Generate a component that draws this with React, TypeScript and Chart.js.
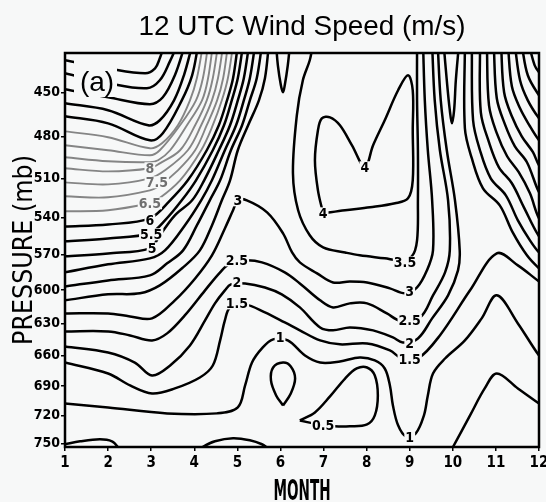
import React, { useEffect, useRef } from 'react';
import { Chart, registerables } from 'chart.js';
Chart.register(...registerables);

// ---------- axes ----------
const monthTicks = [1, 2, 3, 4, 5, 6, 7, 8, 9, 10, 11, 12];
const pressureTicks = [450, 480, 510, 540, 570, 600, 630, 660, 690, 720, 750];
const pressureMin = 425;
const pressureMax = 754;

// ---------- contour lines: [month, pressure (mb)] ----------
const c12 = [[1,429.5],[2,434.6],[2.86,437.7],[3.09,434.6],[3.2,428.3],[3.3,420.3]];
const c11_5 = [[1,437.7],[2,444.1],[2.9,447.4],[3.2,442.2],[3.44,429.9],[3.6,420.3]];
const c11 = [[1,448],[2,453.3],[2.97,457.9],[3.27,453.3],[3.55,439],[3.78,420.3]];
const c10_5 = [[1,457.3],[2,461.9],[2.93,472.1],[3.2,468.7],[3.53,455.3],[3.76,439],[3.95,420.3]];
const c10 = [[1,466],[2,470.8],[2.97,482.6],[3.27,477.6],[3.71,455.3],[3.95,439],[4.09,420.3]];
const c9_5 = [[1,476.3],[2,480.4],[2.97,488.2],[3.25,484.7],[3.62,472.1],[3.9,455.3],[4.06,440.9],[4.2,420.3]];
const c9 = [[1,486.1],[2,489.6],[2.97,493.2],[3.2,489.6],[3.67,472.1],[4.04,455.3],[4.2,440.9],[4.32,420.3]];
const c8_5 = [[1,494.6],[2,497.5],[2.97,498.2],[3.16,496.8],[3.44,489.6],[3.83,472.1],[4.18,455.3],[4.32,440.9],[4.43,420.3]];
const c8 = [[1,502.6],[2,504.9],[2.97,502.6],[3.2,499],[3.67,489.6],[4.02,472.1],[4.29,455.3],[4.43,440.9],[4.55,420.3]];
const c7_5 = [[1,513],[2,514.5],[2.97,510],[3.32,504.1],[3.85,489.6],[4.16,472.1],[4.41,455.3],[4.55,440.9],[4.67,420.3]];
const c7 = [[1,523.5],[2,524.3],[2.97,519],[3.2,515.2],[3.62,504.1],[4.02,489.6],[4.29,472.1],[4.53,455.3],[4.67,440.9],[4.78,420.3]];
const c6_5 = [[1,535.1],[2,534.3],[2.97,528.9],[3.13,526.6],[3.67,511.5],[4.16,489.6],[4.43,472.1],[4.64,455.3],[4.78,440.9],[4.9,420.3]];
const c6 = [[1,547],[2,545.4],[2.97,540.6],[3.44,526.6],[3.85,511.5],[4.29,489.6],[4.57,472.1],[4.76,455.3],[4.9,440.9],[5.01,420.3]];
const c5_5 = [[1,559],[2,556.6],[2.97,552.5],[3.32,542.2],[3.71,526.6],[4.04,511.5],[4.43,489.6],[4.69,472.1],[4.87,455.3],[5.01,440.9],[5.13,420.3]];
const c5 = [[1,571.3],[2,568.9],[2.97,564.7],[3.2,554.1],[3.55,538.2],[3.95,526.6],[4.23,511.5],[4.57,489.6],[4.83,472.1],[5.01,455.3],[5.15,440.9],[5.27,420.3]];
const c4_5 = [[1,584.8],[2,578],[2.97,573],[3.32,566.4],[3.78,546.2],[4.16,526.6],[4.41,511.5],[4.71,489.6],[4.97,472.1],[5.15,455.3],[5.29,440.9],[5.41,420.3]];
const c4 = [[1,596.9],[2,591.7],[2.97,587.4],[3.37,577.2],[3.74,566.4],[4.06,546.2],[4.36,526.6],[4.6,511.5],[4.85,489.6],[5.11,472.1],[5.29,455.3],[5.45,440.9],[5.57,420.3]];
const c3_5fan = [[1,609.1],[2,603.8],[2.74,602.9],[3.2,596],[3.74,580.6],[4.13,566.4],[4.41,546.2],[4.64,526.6],[4.83,511.5],[5.01,489.6],[5.25,472.1],[5.5,455.3],[5.64,440.9],[5.73,420.3]];
const c3 = [[1,620.8],[2,620.8],[2.51,623.5],[3.02,625.3],[3.55,609.1],[4.02,590],[4.41,570.5],[4.71,548.6],[4.9,534.3],[5.01,526.6],[5.22,526.6],[5.69,535.9],[6.06,552.5],[6.27,568.1],[6.45,576.4],[6.85,585.7],[7.22,593.5],[7.61,592.6],[8.01,593.5],[8.54,598.6],[8.89,602.9],[9.17,597.8],[9.4,583.1],[9.54,566.4],[9.52,526.6],[9.42,489.6],[9.35,455.3],[9.31,420.3]];
const c3_5u = [[6.75,420.3],[6.68,429.5],[6.52,442.2],[6.38,465.3],[6.29,506.3],[6.41,534.3],[6.68,554.1],[6.99,563.9],[7.5,568.1],[7.84,570.5],[8.42,573],[8.77,574.7],[9.05,571.3],[9.17,558.2],[9.19,526.6],[9.19,489.6],[9.17,455.3],[9.17,420.3]];
const c4loop = [[6.99,536.7],[6.87,519],[6.8,496.8],[6.87,475.6],[6.96,467.4],[7.15,466.7],[7.38,472.1],[7.66,486.1],[7.96,501.9],[8.15,486.1],[8.42,468.7],[8.73,448.7],[8.96,439],[9.07,448.7],[9.07,475.6],[9.07,511.5],[8.96,525.1],[8.66,528.9],[8.08,532],[7.5,534.3],[6.99,536.7]];
const cTongue6 = [[5.9,420.3],[5.94,432.7],[6.01,445.4],[6.06,450],[6.1,445.4],[6.17,432.7],[6.22,420.3]];
const cTongue10 = [[9.79,420.3],[9.86,442.2],[9.93,461.9],[9.98,470.8],[10.03,461.9],[10.07,442.2],[10.14,420.3]];
const c2_5 = [[1,637.3],[2,637.3],[2.51,641],[3.02,645.7],[3.37,639.1],[3.78,622.6],[4.25,600.3],[4.6,584.8],[4.83,577.2],[5.18,574.7],[5.57,576.4],[6.1,584.8],[6.45,594.3],[6.92,609.1],[7.22,615.4],[7.61,611.8],[8.01,611.8],[8.47,620.8],[8.77,627.2],[9.24,624.4],[9.54,604.7],[9.82,584.8],[9.93,566.4],[9.89,526.6],[9.7,489.6],[9.58,455.3],[9.52,420.3]];
const c2 = [[1,651.3],[2,657.1],[2.62,666.8],[3.02,679.5],[3.44,669.7],[3.9,650.4],[4.25,627.2],[4.48,611.8],[4.71,600.3],[4.85,595.1],[5.18,594.3],[5.64,597.8],[6.03,603.8],[6.45,615.4],[6.92,633.6],[7.22,636.3],[7.61,633.6],[8.15,636.3],[8.61,642.9],[8.84,647.6],[9.19,643.8],[9.52,625.3],[9.89,604.7],[10.12,583.1],[10.16,566.4],[10.05,526.6],[9.86,489.6],[9.72,455.3],[9.65,420.3]];
const c1_5 = [[1,666.8],[2,677.5],[2.51,689.4],[3.02,697.5],[3.55,692.4],[4.13,681.5],[4.43,669.7],[4.6,645.7],[4.71,627.2],[4.83,615.4],[5.18,612.7],[5.64,619.9],[6.1,629],[6.45,636.3],[6.92,645.7],[7.38,649.4],[8.01,648.5],[8.54,655.2],[8.82,662.9],[9.19,662.9],[9.7,641],[10.4,600.3],[11.02,568.9],[11.51,578.9],[12,592.6],[12.14,596]];
const c1 = [[1,707.7],[2,711.8],[3.37,718],[4.53,718],[5.01,711.8],[5.18,689.4],[5.34,666.8],[5.57,653.2],[5.83,644.7],[6.17,645.7],[6.57,660],[6.92,666.8],[7.38,665.8],[7.84,661.9],[8.19,664.8],[8.42,672.6],[8.54,689.4],[8.61,709.8],[8.73,730.6],[8.91,742.4],[9.14,739.2],[9.33,720.1],[9.42,699.5],[9.54,677.5],[9.82,662.9],[10.28,645.7],[10.67,625.3],[11.02,604.7],[11.51,629.9],[12,660],[12.14,664.8]];
const c05loop = [[6.45,725.4],[6.8,717],[7.15,700.5],[7.5,682.5],[7.77,672.6],[8.01,671.6],[8.19,679.5],[8.26,699.5],[8.19,720.1],[8.01,729.6],[7.61,731.7],[7.26,731.7],[6.87,729.6],[6.45,725.4]];
const cEgg = [[6.06,709.8],[5.9,699.5],[5.78,684.4],[5.83,671.6],[6.06,666.8],[6.24,670.6],[6.34,682.5],[6.24,697.5],[6.06,709.8]];
const cBumpLeft = [[0.9,752],[1,751],[1.35,747.8],[1.81,745.6],[2.09,747.8],[2.23,754.3],[2.28,759.8]];
const cBumpMid = [[4.02,759.8],[4.18,754.3],[4.48,747.8],[4.9,744.5],[5.29,746.7],[5.57,751],[5.71,755.4]];
const c05right = [[9.93,759.8],[10,754.3],[10.4,720.1],[10.74,692.4],[11.02,677.5],[11.51,692.4],[12,707.7],[12.14,711.8]];
const r1 = [[10.28,420.3],[10.28,474.2],[10.44,495.3],[10.7,517.5],[11.09,530.5],[11.39,551.8],[11.72,570.5],[12,581.4],[12.14,584.8]];
const r2 = [[10.44,420.3],[10.47,468.7],[10.63,489.6],[10.88,510],[11.23,522.8],[11.51,542.2],[11.79,558.2],[12,568.1],[12.14,571.3]];
const r3 = [[10.63,420.3],[10.65,463.3],[10.84,484],[11.07,501.9],[11.37,513.7],[11.65,532],[12,555],[12.14,558.2]];
const r4 = [[10.79,420.3],[10.84,458.6],[11.02,477.6],[11.26,493.9],[11.53,505.5],[11.79,521.3],[12,540.6],[12.14,543.8]];
const r5 = [[10.95,420.3],[11.02,453.9],[11.21,471.5],[11.44,486.8],[11.72,498.2],[12,520.5],[12.14,525.1]];
const r6 = [[11.12,420.3],[11.19,450],[11.37,466],[11.6,479.8],[11.86,491],[12,500.4],[12.14,504.1]];
const r7 = [[11.28,420.3],[11.37,446.1],[11.56,460.6],[11.79,472.8],[12,482.6],[12.14,486.8]];
const r8 = [[11.44,420.3],[11.56,442.2],[11.74,455.3],[12,467.4],[12.14,471.5]];
const r9 = [[11.6,420.3],[11.74,439],[12,452],[12.14,456.6]];
const r10 = [[11.77,420.3],[11.9,432.7],[12,437.1],[12.14,441]];

const greyLines = [c9_5, c9, c8_5, c8, c7_5, c7, c6_5];
const blackLines = [
  c12, c11_5, c11, c10_5, c10, c6, c5_5, c5, c4_5, c4, c3_5fan, c3, c3_5u, c4loop,
  cTongue6, cTongue10, c2_5, c2, c1_5, c1, c05loop, cEgg, cBumpLeft, cBumpMid, c05right,
  r1, r2, r3, r4, r5, r6, r7, r8, r9, r10,
];

// contour labels: [text, month, pressure, grey]
const contourLabels: [string, number, number, boolean][] = [
  ['8', 2.97, 502.6, true],
  ['7.5', 3.13, 513, true],
  ['6.5', 2.97, 528.9, true],
  ['6', 2.97, 542.2, false],
  ['5.5', 3.0, 553.3, false],
  ['5', 3.02, 564.7, false],
  ['3', 5.01, 526.6, false],
  ['2.5', 4.99, 574.7, false],
  ['2', 4.99, 593.5, false],
  ['1.5', 4.99, 611.8, false],
  ['1', 5.99, 642.9, false],
  ['4', 6.99, 536.7, false],
  ['4', 7.96, 501.9, false],
  ['0.5', 6.99, 730.6, false],
  ['3.5', 8.89, 576.4, false],
  ['3', 9.0, 601, false],
  ['2.5', 9.0, 627.2, false],
  ['2', 9.0, 648.5, false],
  ['1.5', 9.0, 664, false],
  ['1', 9.0, 743.4, false],
];

const BG = '#f7f8f8';
const NARROW = "'Liberation Sans Narrow', 'DejaVu Sans Condensed', 'Arial Narrow', sans-serif";
const SANS = "'Liberation Sans', Arial, sans-serif";

function fitText(ctx: CanvasRenderingContext2D, text: string, cx: number, cy: number, font: string, targetW: number, rotate = false) {
  ctx.save();
  ctx.font = font;
  const w = ctx.measureText(text).width;
  ctx.translate(cx, cy);
  if (rotate) ctx.rotate(-Math.PI / 2);
  ctx.scale(targetW / w, 1);
  ctx.textAlign = 'center';
  ctx.textBaseline = 'alphabetic';
  ctx.fillStyle = '#000';
  ctx.fillText(text, 0, 0);
  ctx.restore();
}

const decor = {
  id: 'decor',
  beforeDraw(chart: any) {
    const { ctx, width, height } = chart;
    ctx.save();
    ctx.fillStyle = BG;
    ctx.fillRect(0, 0, width, height);
    ctx.restore();
  },
  afterDatasetsDraw(chart: any) {
    const { ctx, chartArea: a, scales } = chart;
    const x = scales.x, y = scales.y;
    ctx.save();
    ctx.font = `bold 14px ${NARROW}`;
    ctx.textAlign = 'center';
    ctx.textBaseline = 'middle';
    for (const [t, m, p, grey] of contourLabels) {
      const px = x.getPixelForValue(m);
      const py = y.getPixelForValue(p);
      const w = ctx.measureText(t).width;
      ctx.fillStyle = BG;
      ctx.fillRect(px - w / 2 - 1, py - 6, w + 2, 12);
      ctx.fillStyle = grey ? '#6f6f6f' : '#000';
      ctx.fillText(t, px, py + 1);
    }
    // panel tag
    ctx.fillStyle = BG;
    ctx.fillRect(a.left + 9, a.top + 2, 43, 42);
    ctx.fillStyle = '#000';
    ctx.font = `28px ${SANS}`;
    ctx.textAlign = 'center';
    ctx.textBaseline = 'alphabetic';
    ctx.fillText('(a)', a.left + 32, a.top + 38);
    // frame
    ctx.strokeStyle = '#000';
    ctx.lineWidth = 2.5;
    ctx.strokeRect(a.left, a.top, a.right - a.left, a.bottom - a.top);
    ctx.restore();
  },
  afterDraw(chart: any) {
    const { ctx, chartArea: a } = chart;
    const cx = (a.left + a.right) / 2;
    fitText(ctx, '12 UTC Wind Speed (m/s)', cx, 35, `27px ${SANS}`, 327);
    fitText(ctx, 'MONTH', cx, 500, `bold 28px ${NARROW}`, 57);
    fitText(ctx, 'PRESSURE (mb)', 32, (a.top + a.bottom) / 2, `26px ${NARROW}`, 190, true);
  },
};

export default function App() {
  const ref = useRef<HTMLCanvasElement>(null);
  useEffect(() => {
    const datasets = [
      ...greyLines.map((pts) => ({ pts, grey: true })),
      ...blackLines.map((pts) => ({ pts, grey: false })),
    ].map(({ pts, grey }) => ({
      data: pts.map(([m, p]) => ({ x: m, y: p })),
      borderColor: grey ? '#858585' : '#000',
      borderWidth: grey ? 1.9 : 2.5,
      pointRadius: 0,
      tension: 0.35,
      fill: false,
    }));
    const tickFont = { family: NARROW, size: 14, weight: 'bold' as const };
    const chart = new Chart(ref.current!, {
      type: 'line',
      data: { datasets },
      options: {
        animation: false,
        responsive: false,
        events: [],
        layout: { padding: { top: 53, right: 7, left: 0, bottom: 0 } },
        plugins: { legend: { display: false }, tooltip: { enabled: false }, title: { display: false } },
        scales: {
          x: {
            type: 'linear',
            min: monthTicks[0],
            max: monthTicks[monthTicks.length - 1],
            afterBuildTicks: (s: any) => { s.ticks = monthTicks.map((v) => ({ value: v })); },
            ticks: { font: { ...tickFont, size: 15 }, color: '#000', padding: 3, autoSkip: false, maxRotation: 0, callback: (v: any) => String(v) },
            grid: { drawOnChartArea: false, drawTicks: true, tickLength: 4, color: '#000', lineWidth: 1.5 },
            border: { display: false },
            afterFit: (s: any) => { s.height = 55; s.paddingLeft = 0; s.paddingRight = 0; },
          },
          y: {
            type: 'logarithmic',
            reverse: true,
            min: pressureMin,
            max: pressureMax,
            afterBuildTicks: (s: any) => { s.ticks = pressureTicks.map((v) => ({ value: v })); },
            ticks: { font: tickFont, color: '#000', padding: 1, autoSkip: false, callback: (v: any) => String(v) },
            grid: { drawOnChartArea: false, drawTicks: true, tickLength: 4, color: '#000', lineWidth: 1.5 },
            border: { display: false },
            afterFit: (s: any) => { s.width = 65; s.paddingTop = 0; s.paddingBottom = 0; },
          },
        },
      },
      plugins: [decor],
    } as any);
    return () => chart.destroy();
  }, []);
  return (
    <div style={{ position: 'fixed', left: 0, top: 0, width: 546, height: 502, background: BG }}>
      <canvas ref={ref} width={546} height={502} style={{ display: 'block', width: 546, height: 502 }} />
    </div>
  );
}
